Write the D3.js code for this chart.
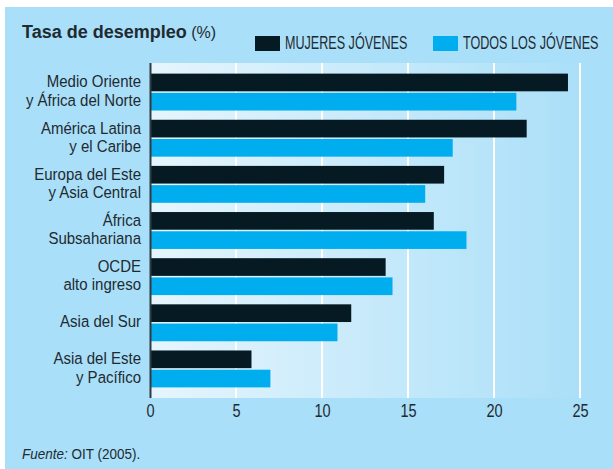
<!DOCTYPE html>
<html>
<head>
<meta charset="utf-8">
<script src="https://cdn.jsdelivr.net/npm/d3@7"></script>
<style>
  body { margin: 0; background: #fff; }
  text { font-family: "Liberation Sans", Arial, sans-serif; }
</style>
</head>
<body>
<div id="chart"></div>
<script>
// data
const regions = [
  ["Medio Oriente", "y África del Norte"],
  ["América Latina", "y el Caribe"],
  ["Europa del Este", "y Asia Central"],
  ["África", "Subsahariana"],
  ["OCDE", "alto ingreso"],
  ["Asia del Sur"],
  ["Asia del Este", "y Pacífico"],
];
const mujeresJovenes = [24.3, 21.9, 17.1, 16.5, 13.7, 11.7, 5.9];
const todosJovenes = [21.3, 17.6, 16.0, 18.4, 14.1, 10.9, 7.0];
const seriesNames = ["MUJERES JÓVENES", "TODOS LOS JÓVENES"];
const xTicks = [0, 5, 10, 15, 20, 25];

const container = { width: 613, height: 469 };
const plot = { left: 150, right: 580, top: 63, bottom: 398 };
const colors = { panel: "#a9dff8", dark: "#061a23", blue: "#00aeef", text: "#1f2a31" };

const keys = regions.map((r) => r.join(" "));
const rows = keys.map((k, i) => ({ key: k, lines: regions[i], values: [mujeresJovenes[i], todosJovenes[i]] }));

const svg = d3
  .select("#chart")
  .append("svg")
  .attr("width", container.width)
  .attr("height", container.height);

// light blue panel
svg.append("rect")
  .attr("x", 5).attr("y", 7)
  .attr("width", container.width - 5).attr("height", container.height - 7)
  .attr("fill", colors.panel);

// gradient behind the bars
const grad = svg.append("defs").append("linearGradient")
  .attr("id", "plotbg").attr("x1", 0).attr("x2", 1).attr("y1", 0).attr("y2", 0);
grad.append("stop").attr("offset", "0%").attr("stop-color", "#e6f5fd");
grad.append("stop").attr("offset", "95%").attr("stop-color", colors.panel);

svg.append("rect")
  .attr("x", plot.left).attr("y", plot.top)
  .attr("width", container.width - plot.left).attr("height", plot.bottom - plot.top)
  .attr("fill", "url(#plotbg)");

const x = d3.scaleLinear().domain([0, 25]).range([plot.left, plot.right]);
const y = d3.scaleBand().domain(keys).range([plot.top, plot.bottom]).paddingInner(0.2).paddingOuter(0.23);
const ySub = d3.scaleBand().domain([0, 1]).range([0, y.bandwidth()]).paddingInner(0.08);
const color = d3.scaleOrdinal().domain([0, 1]).range([colors.dark, colors.blue]);

// white gridlines
svg.append("g")
  .selectAll("line")
  .data(xTicks.filter((t) => t > 0))
  .enter()
  .append("line")
  .attr("x1", (d) => x(d)).attr("x2", (d) => x(d))
  .attr("y1", plot.top).attr("y2", plot.bottom)
  .attr("stroke", "#fff")
  .attr("stroke-width", 2);

// bars
const groups = svg.append("g")
  .selectAll("g")
  .data(rows)
  .enter()
  .append("g")
  .attr("transform", (d) => "translate(0," + y(d.key) + ")");

groups.selectAll("rect")
  .data((d) => d.values)
  .enter()
  .append("rect")
  .attr("x", x(0))
  .attr("y", (d, i) => ySub(i))
  .attr("width", (d) => x(d) - x(0))
  .attr("height", ySub.bandwidth())
  .attr("fill", (d, i) => color(i));

// vertical axis line
svg.append("line")
  .attr("x1", x(0) + 0.5).attr("x2", x(0) + 0.5)
  .attr("y1", plot.top).attr("y2", plot.bottom)
  .attr("stroke", "#2f3b42")
  .attr("stroke-width", 2);

// x axis labels (condensed look via horizontal scale)
const xAxis = svg.append("g")
  .attr("transform", "translate(0," + plot.bottom + ")")
  .call(d3.axisBottom(x).tickValues(xTicks).tickSize(0).tickPadding(7));
xAxis.select(".domain").remove();
xAxis.selectAll("text")
  .style("font-family", '"Liberation Sans", Arial, sans-serif')
  .style("font-size", "17.5px")
  .attr("transform", "scale(0.83,1)")
  .attr("fill", colors.text);

// category labels
const lineH = 18.5;
const labels = svg.append("g")
  .attr("transform", "translate(141,0) scale(0.91,1)")
  .selectAll("text")
  .data(rows)
  .enter()
  .append("text")
  .attr("text-anchor", "end")
  .attr("font-size", "16.5px")
  .attr("fill", colors.text);

labels.selectAll("tspan")
  .data((d) => d.lines.map((l, i) => ({ l, i, n: d.lines.length, key: d.key })))
  .enter()
  .append("tspan")
  .attr("x", 0)
  .attr("y", (d) => y(d.key) + y.bandwidth() / 2 + (d.i - (d.n - 1) / 2) * lineH)
  .attr("dy", "0.28em")
  .text((d) => d.l);

// title
const title = svg.append("text")
  .attr("x", 22).attr("y", 38)
  .attr("fill", colors.text);
title.append("tspan").attr("font-weight", "bold").attr("font-size", "18px").text("Tasa de desempleo");
title.append("tspan").attr("font-size", "16px").text(" (%)");

// legend
const legendX = [255, 433];
const legend = svg.append("g")
  .selectAll("g")
  .data(seriesNames)
  .enter()
  .append("g")
  .attr("transform", (d, i) => "translate(" + legendX[i] + ",36)");

legend.append("rect")
  .attr("width", 25).attr("height", 15)
  .attr("fill", (d, i) => color(i));

legend.append("text")
  .attr("transform", "translate(30,13) scale(0.7,1)")
  .attr("font-size", "18px")
  .attr("fill", colors.text)
  .text((d) => d);

// source
const source = svg.append("text")
  .attr("transform", "translate(22,459) scale(0.93,1)")
  .attr("font-size", "14.5px")
  .attr("fill", colors.text);
source.append("tspan").attr("font-style", "italic").text("Fuente:");
source.append("tspan").text(" OIT (2005).");
</script>
</body>
</html>
